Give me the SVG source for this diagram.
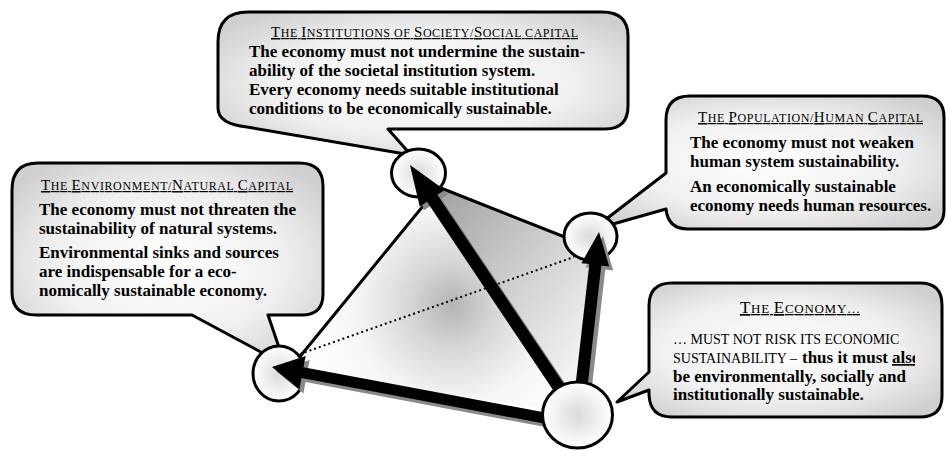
<svg xmlns="http://www.w3.org/2000/svg" width="946" height="451" viewBox="0 0 946 451">
  <defs>
    <radialGradient id="gBubble" cx="50%" cy="50%" r="62%">
      <stop offset="0" stop-color="#ffffff"/>
      <stop offset="0.6" stop-color="#f0f0f0"/>
      <stop offset="1" stop-color="#cfcfcf"/>
    </radialGradient>
    <radialGradient id="gNode" cx="50%" cy="50%" r="50%">
      <stop offset="0" stop-color="#dadada"/>
      <stop offset="1" stop-color="#ffffff"/>
    </radialGradient>
    <radialGradient id="gLeftFace" gradientUnits="userSpaceOnUse" cx="452" cy="305" r="150">
      <stop offset="0" stop-color="#b4b4b4"/>
      <stop offset="0.3" stop-color="#d8d8d8"/>
      <stop offset="0.65" stop-color="#f6f6f6"/>
      <stop offset="1" stop-color="#ffffff"/>
    </radialGradient>
    <linearGradient id="gRightFace" gradientUnits="userSpaceOnUse" x1="440" y1="195" x2="605" y2="330">
      <stop offset="0" stop-color="#a4a4a4"/>
      <stop offset="0.5" stop-color="#cdcdcd"/>
      <stop offset="1" stop-color="#f2f2f2"/>
    </linearGradient>
    <clipPath id="clipEcon">
      <rect x="650" y="283" width="265" height="134"/>
    </clipPath>
  </defs>
  <style>
    .bubble { fill: url(#gBubble); stroke: #000; stroke-width: 3; stroke-linejoin: round; }
    .node { fill: url(#gNode); stroke: #000; stroke-width: 3; }
    .edge { stroke: #000; stroke-width: 3; fill: none; stroke-linecap: round; }
    .hidden { stroke: #000; stroke-width: 2; fill: none; stroke-dasharray: 2 3; }
    .arrow { fill: #000; }
    .shadow { fill: #8a8a8a; }
    .hd { font-family: "Liberation Serif", "Times New Roman", serif; font-size: 12px; fill: #000; text-decoration: underline; }
    .cap { font-size: 15px; }
    .bd { font-family: "Liberation Serif", "Times New Roman", serif; font-size: 17px; font-weight: bold; fill: #000; }
    .rg { font-family: "Liberation Serif", "Times New Roman", serif; font-size: 14px; font-weight: normal; fill: #000; }
  </style>

  <!-- Tetrahedron faces and edges -->
  <g id="tetrahedron">
    <polygon points="432,195 283,372 570,412" fill="url(#gLeftFace)"/>
    <polygon points="425,180 590,246 580,410" fill="url(#gRightFace)"/>
    <line class="edge" x1="432" y1="195" x2="289" y2="370"/>
    <line class="edge" x1="418" y1="179" x2="590" y2="247"/>
    <line class="hidden" x1="300" y1="354" x2="574" y2="257"/>
  </g>

  <!-- Institutions -->
  <g id="institutions">
    <path class="bubble" d="M247,127 L411,155 L388,129 L605,129 Q628,129 628,106 L628,36 Q628,12 602,12 L248,12 Q218,12 218,42 L218,108 Q218,124 247,127 Z"/>
    <text class="hd" x="271" y="37" textLength="307" lengthAdjust="spacing"><tspan class="cap">T</tspan>HE <tspan class="cap">I</tspan>NSTITUTIONS OF <tspan class="cap">S</tspan>OCIETY/<tspan class="cap">S</tspan>OCIAL CAPITAL</text>
    <text class="bd" x="249" y="57">The economy must not undermine the sustain-</text>
    <text class="bd" x="249" y="76">ability of the societal institution system.</text>
    <text class="bd" x="249" y="95">Every economy needs suitable institutional</text>
    <text class="bd" x="249" y="114">conditions to be economically sustainable.</text>
    <ellipse class="node" cx="418.5" cy="173" rx="27" ry="24"/>
  </g>

  <!-- Environment -->
  <g id="environment">
    <path class="bubble" d="M192,315 L285,365 L268,315 L302,315 Q323,315 323,294 L323,186 Q323,163 299,163 L38,163 Q12,163 12,190 L12,292 Q12,315 36,315 Z"/>
    <text class="hd" x="41" y="190" textLength="252" lengthAdjust="spacing"><tspan class="cap">T</tspan>HE <tspan class="cap">E</tspan>NVIRONMENT/<tspan class="cap">N</tspan>ATURAL <tspan class="cap">C</tspan>APITAL</text>
    <text class="bd" x="39" y="215">The economy must not threaten the</text>
    <text class="bd" x="39" y="234">sustainability of natural systems.</text>
    <text class="bd" x="39" y="258">Environmental sinks and sources</text>
    <text class="bd" x="39" y="277">are indispensable for a eco-</text>
    <text class="bd" x="39" y="296">nomically sustainable economy.</text>
    <ellipse class="node" cx="279" cy="373.5" rx="26" ry="27.5"/>
  </g>

  <!-- Population -->
  <g id="population">
    <path class="bubble" d="M666,173 L592,230 L666,209 Q668,229 688,229 L924,229 Q944,229 944,210 L944,117 Q944,96 922,96 L690,96 Q666,96 666,120 Z"/>
    <text class="hd" x="698" y="122" textLength="225" lengthAdjust="spacing"><tspan class="cap">T</tspan>HE <tspan class="cap">P</tspan>OPULATION/<tspan class="cap">H</tspan>UMAN <tspan class="cap">C</tspan>APITAL</text>
    <text class="bd" x="690" y="148">The economy must not weaken</text>
    <text class="bd" x="690" y="167">human system sustainability.</text>
    <text class="bd" x="690" y="192">An economically sustainable</text>
    <text class="bd" x="690" y="211">economy needs human resources.</text>
    <ellipse class="node" cx="590.5" cy="236.5" rx="26.5" ry="23.5"/>
  </g>

  <!-- Connectors: thick arrows from the economy -->
  <g id="connectors">
    <g transform="translate(4,4)">
      <polygon class="shadow" points="410,165 444.7,190 437.4,194.8 577.2,403.5 566.8,410.5 427,201.8 419.7,206.6"/>
      <polygon class="shadow" points="599,232 609.2,266.4 601.3,265.5 585.9,400.7 573.9,399.3 589.3,264.1 581.4,263.2"/>
      <polygon class="shadow" points="272,367 305.6,356 303.5,367.3 561,415.5 559,426.3 301.5,378.1 299.4,389.4"/>
    </g>
    <polygon class="arrow" points="410,165 444.7,190 437.4,194.8 577.2,403.5 566.8,410.5 427,201.8 419.7,206.6"/>
    <polygon class="arrow" points="599,232 609.2,266.4 601.3,265.5 585.9,400.7 573.9,399.3 589.3,264.1 581.4,263.2"/>
    <polygon class="arrow" points="272,367 305.6,356 303.5,367.3 561,415.5 559,426.3 301.5,378.1 299.4,389.4"/>
  </g>

  <!-- Economy -->
  <g id="economy">
    <path class="bubble" d="M649,372 L617,402 L649,390 L649,395 Q650,417 672,417 L920,417 Q942,417 942,396 L942,305 Q942,283 920,283 L672,283 Q649,283 649,306 Z"/>
    <text class="hd" x="740" y="313" textLength="120" lengthAdjust="spacing" style="font-size:13px"><tspan style="font-size:17px">T</tspan>HE <tspan style="font-size:17px">E</tspan>CONOMY…</text>
    <text class="rg" x="673" y="344">… MUST NOT RISK ITS ECONOMIC</text>
    <g clip-path="url(#clipEcon)">
      <text class="rg" x="673" y="363">SUSTAINABILITY – <tspan class="bd" x="802">thus it must </tspan><tspan class="bd" x="892" text-decoration="underline">also</tspan></text>
    </g>
    <text class="bd" x="673" y="382">be environmentally, socially and</text>
    <text class="bd" x="673" y="400">institutionally sustainable.</text>
    <ellipse class="node" cx="577.5" cy="415" rx="35" ry="33"/>
  </g>
</svg>
